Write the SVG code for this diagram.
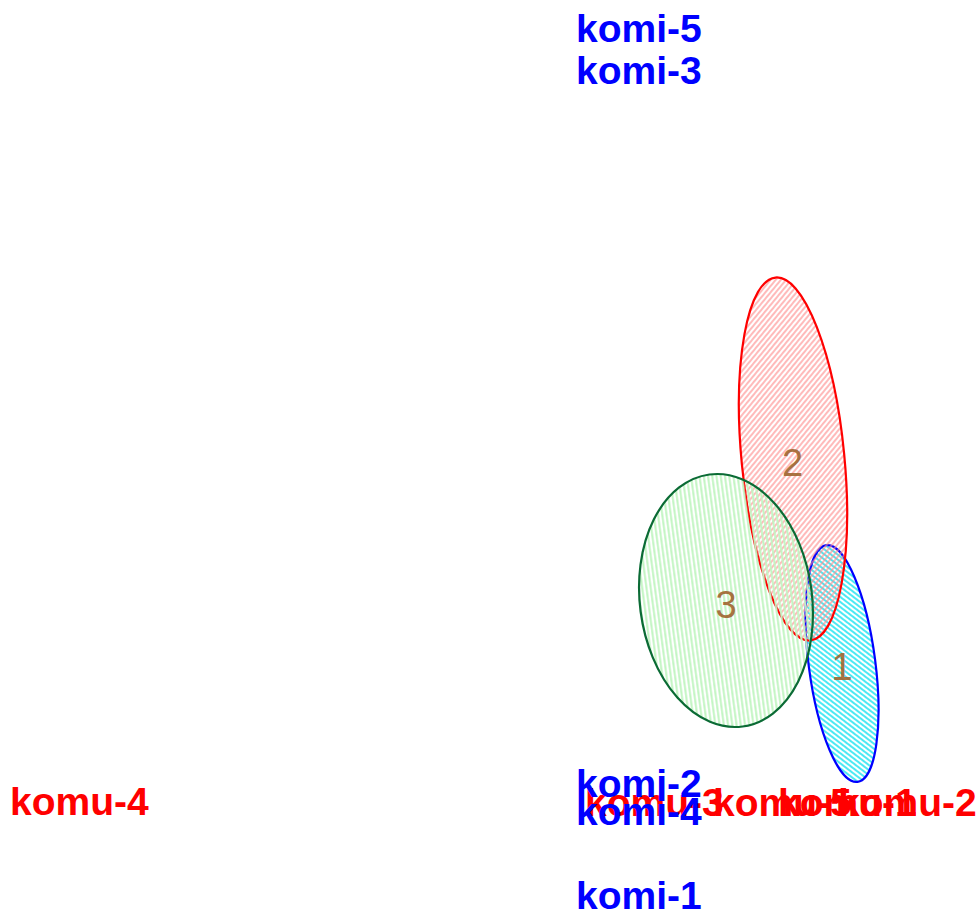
<svg xmlns="http://www.w3.org/2000/svg" width="980" height="915" viewBox="0 0 980 915">
<style>
.lab{font-family:"Liberation Sans",Arial,sans-serif;font-weight:bold;font-size:39px}
.komi{fill:#0000ff}
.komu{fill:#ff0000}
.num{font-family:"Liberation Sans",Arial,sans-serif;font-size:38px;fill:#a0652f;text-anchor:middle;opacity:0.9}
</style>
<defs>
<pattern id="hRed" patternUnits="userSpaceOnUse" width="4" height="4" patternTransform="rotate(45)">
<line x1="2" y1="0" x2="2" y2="4" stroke="#ff8c8c" stroke-width="1.2"/>
</pattern>
<pattern id="hCyan" patternUnits="userSpaceOnUse" width="4" height="4" patternTransform="rotate(-45)">
<line x1="2" y1="0" x2="2" y2="4" stroke="#00e0ee" stroke-width="1.4"/>
</pattern>
<pattern id="hGreen" patternUnits="userSpaceOnUse" width="4.2" height="4">
<line x1="2" y1="0" x2="2" y2="4" stroke="#c2f5c2" stroke-width="2"/>
</pattern>
</defs>
<rect width="980" height="915" fill="#ffffff"/>
<g id="connectors"/>
<g id="cluster-1">
<ellipse cx="842" cy="663.5" rx="33.3" ry="119.4" transform="rotate(-7.5 842 663.5)" fill="url(#hCyan)" stroke="#0000ff" stroke-width="2.2"/>
</g>
<g id="cluster-2">
<ellipse cx="793" cy="459" rx="51.4" ry="182.3" transform="rotate(-5.5 793 459)" fill="url(#hRed)" stroke="#ff0000" stroke-width="2.2"/>
</g>
<g id="cluster-3">
<ellipse cx="726" cy="600.5" rx="86.1" ry="127.1" transform="rotate(-7.5 726 600.5)" fill="url(#hGreen)" stroke="#0b6b35" stroke-width="2.2"/>
</g>
<g id="cluster-labels">
<text class="num" x="842" y="680">1</text>
<text class="num" x="792.5" y="476">2</text>
<text class="num" x="726" y="618">3</text>
</g>
<g id="komu-labels">
<text id="komu-4" class="lab komu" x="10" y="815">komu-4</text>
<text id="komu-3" class="lab komu" x="585" y="816">komu-3</text>
<text id="komu-5" class="lab komu" x="713" y="816">komu-5</text>
<text id="komu-1" class="lab komu" x="778" y="816">komu-1</text>
<text id="komu-2" class="lab komu" x="838" y="816">komu-2</text>
</g>
<g id="komi-labels">
<text id="komi-5" class="lab komi" x="576" y="42">komi-5</text>
<text id="komi-3" class="lab komi" x="576" y="84">komi-3</text>
<text id="komi-2" class="lab komi" x="576" y="797">komi-2</text>
<text id="komi-4" class="lab komi" x="576" y="825">komi-4</text>
<text id="komi-1" class="lab komi" x="576" y="909">komi-1</text>
</g>
</svg>
